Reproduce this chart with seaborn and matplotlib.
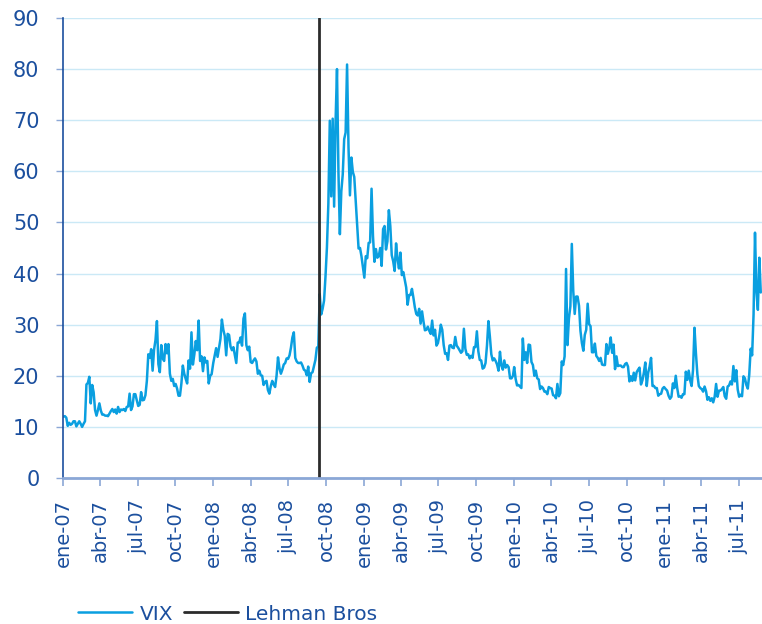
import numpy as np
import pandas as pd
import matplotlib
matplotlib.use("Agg")
import matplotlib.pyplot as plt
import seaborn as sns
from matplotlib.lines import Line2D

# --- data: VIX read twice a week (Tue/Fri) from the picture ---
vix_2007 = [12.0, 12.1, 11.8, 10.2, 10.8, 10.4, 10.6, 11.1, 11.1, 10.1, 10.6, 11.1, 10.6, 10.0, 10.6, 11.1,
            18.3, 18.6, 19.8, 14.6, 18.2, 16.8, 13.3, 12.2, 13.3, 14.6, 13.2, 12.4, 12.4, 12.2, 12.2, 12.1,
            12.6, 13.1, 13.5, 12.9, 13.4, 12.6, 13.9, 12.9, 13.4, 13.3, 13.5, 13.1, 13.9, 14.0, 16.5, 13.3,
            14.0, 16.4, 16.4, 15.2, 14.1, 14.3, 16.8, 15.2, 15.3, 16.2, 19.0, 24.2, 23.5, 25.2, 21.0, 25.1,
            27.0, 30.7, 22.3, 20.7, 26.0, 23.4, 22.9, 26.2, 24.4, 26.2, 20.4, 19.0, 19.4, 18.0, 18.4, 17.5,
            16.1, 16.1, 18.5, 22.0, 20.4, 19.4, 18.5, 23.0, 21.4, 28.5, 22.2, 24.2, 26.8, 25.0, 30.8, 22.9,
            23.8, 20.9, 23.6, 22.6, 22.9, 18.5, 20.0, 20.3]
vix_2008 = [22.5, 23.9, 25.4, 23.7, 25.4, 27.2, 31.0, 29.0, 27.8, 24.0, 28.2, 28.0, 25.7, 25.0, 25.6, 24.1,
            22.5, 26.5, 26.5, 27.5, 25.9, 31.2, 32.2, 26.0, 25.0, 25.7, 22.7, 22.5, 23.0, 23.4, 22.8, 20.4,
            21.0, 20.1, 20.0, 18.2, 18.8, 19.0, 17.2, 16.5, 18.0, 19.0, 18.3, 17.8, 20.0, 23.6, 21.5, 20.4,
            21.2, 22.2, 22.5, 23.4, 23.3, 24.0, 25.5, 27.5, 28.5, 23.5, 22.8, 22.5, 22.5, 22.6, 22.0, 21.2,
            21.0, 20.1, 21.8, 18.8, 20.5, 20.7, 21.9, 23.1, 25.5, 25.7, 36.0, 32.0, 33.1, 34.7, 39.4, 45.1,
            53.7, 69.9, 55.1, 70.3, 53.1, 69.6, 80.0, 59.9, 47.7, 56.1, 59.4, 66.3, 67.6, 80.9, 64.7, 55.3,
            62.7, 59.9, 58.9, 54.3, 49.8, 44.9, 45.0, 43.4]
vix_2009 = [39.2, 43.4, 43.0, 46.0, 46.1, 56.6, 47.3, 42.3, 44.8, 43.1, 43.4, 45.0, 41.5, 48.7, 49.3, 44.7,
            46.3, 52.4, 49.3, 43.6, 42.4, 40.5, 45.9, 42.9, 41.0, 44.1, 39.7, 40.3, 38.8, 37.3, 33.9, 35.8,
            35.8, 37.0, 35.3, 33.4, 32.1, 31.8, 33.1, 30.2, 32.6, 30.6, 28.9, 29.0, 29.6, 28.8, 28.2, 30.8,
            27.9, 29.0, 25.9, 26.4, 27.9, 30.0, 29.0, 26.0, 24.3, 24.4, 23.1, 25.9, 26.0, 25.5, 25.4, 27.6,
            25.9, 25.5, 25.0, 24.5, 24.8, 29.2, 25.3, 24.1, 24.2, 23.4, 23.9, 23.5, 25.6, 25.6, 28.7, 24.8,
            23.1, 23.0, 21.4, 21.6, 22.5, 25.9, 30.7, 27.7, 24.2, 23.0, 23.4, 22.9, 22.2, 21.0, 24.7, 22.0,
            21.2, 23.0, 21.6, 22.1, 21.7, 19.5, 19.5, 20.0]
vix_2010 = [21.7, 19.4, 18.1, 18.2, 17.9, 17.6, 27.3, 23.1, 24.6, 22.5, 26.1, 26.0, 22.7, 22.1, 20.0, 21.0,
            19.5, 19.3, 17.4, 17.9, 17.6, 16.9, 16.9, 16.4, 17.8, 17.6, 17.5, 16.2, 16.1, 15.6, 18.4, 16.0,
            16.6, 22.8, 22.1, 23.8, 40.9, 26.0, 31.2, 33.6, 45.8, 36.6, 32.1, 35.5, 35.5, 33.7, 28.8, 26.4,
            24.9, 28.0, 29.0, 34.1, 30.1, 29.7, 24.6, 24.6, 26.3, 23.9, 23.5, 22.9, 23.5, 22.2, 22.1, 22.1,
            26.2, 24.3, 25.5, 27.5, 24.5, 26.1, 21.3, 23.8, 21.9, 22.0, 22.0, 21.7, 21.7, 22.3, 22.5, 21.8,
            18.9, 19.9, 19.0, 20.6, 19.1, 20.7, 21.2, 21.6, 18.3, 19.1, 20.6, 22.6, 18.0, 20.6, 21.8, 23.5,
            18.0, 18.0, 17.6, 17.6, 16.1, 16.4, 16.5, 17.5, 17.8]
vix_2011 = [17.4, 17.1, 16.1, 15.5, 15.9, 18.5, 17.6, 20.0, 17.6, 15.9, 16.0, 15.7, 16.4, 16.4, 20.8, 19.2,
            21.0, 19.1, 18.0, 21.2, 29.4, 24.4, 20.3, 18.0, 17.6, 17.4, 16.9, 17.9, 17.0, 15.3, 15.8, 15.1,
            15.6, 14.8, 15.9, 18.4, 15.9, 17.1, 17.1, 17.4, 17.8, 16.0, 15.5, 17.9, 18.1, 18.9, 18.3, 21.9,
            18.9, 21.1, 17.3, 15.9, 16.3, 16.0, 19.9, 19.5, 18.2, 17.5, 20.2, 25.3, 24.0, 32.0, 48.0, 36.4,
            32.9, 43.1, 36.3]
# first and last sample date of each year's list
year_spans = [("2007-01-02", "2007-12-28"), ("2008-01-01", "2008-12-26"),
              ("2009-01-02", "2009-12-29"), ("2010-01-01", "2010-12-31"),
              ("2011-01-04", "2011-08-23")]
lehman_date = "2008-09-15"
month_abbr = ["ene", "abr", "jul", "oct"]
series_names = ["VIX", "Lehman Bros"]

# --- build a table ---
frames = []
for vals, (s, e) in zip([vix_2007, vix_2008, vix_2009, vix_2010, vix_2011], year_spans):
    t0, t1 = pd.Timestamp(s), pd.Timestamp(e)
    dates = pd.to_datetime(np.linspace(t0.value, t1.value, len(vals)))
    frames.append(pd.DataFrame({"fecha": dates, "VIX": vals}))
df = pd.concat(frames, ignore_index=True)

# --- style ---
sns.set_theme(style="white")
plt.rcParams["font.family"] = ["DejaVu Sans"]
dark_blue = "#1b4f9e"
vix_col = "#0a9fe0"
grid_col = "#cbe9f6"
tick_col = "#8ba7d6"

fig = plt.figure(figsize=(7.62, 6.24), dpi=100)
ax = fig.add_axes([63 / 762, 146 / 624, 699 / 762, 460 / 624])

sns.lineplot(data=df, x="fecha", y="VIX", ax=ax, color=vix_col, linewidth=1.8)
ax.axvline(pd.Timestamp(lehman_date), color="#2b2b2b", linewidth=2.0, zorder=3)

ax.set_ylim(0, 90)
ax.set_yticks(np.arange(0, 91, 10))
ax.set_xlim(pd.Timestamp("2007-01-01"), pd.Timestamp("2011-08-26"))
ticks = pd.date_range("2007-01-01", "2011-07-01", freq="QS")
ax.set_xticks(ticks)
ax.set_xticklabels([f"{month_abbr[(t.month - 1) // 3]}-{t.strftime('%y')}" for t in ticks],
                   rotation=90)
ax.set_xlabel("")
ax.set_ylabel("")

ax.yaxis.grid(True, color=grid_col, linewidth=1.0)
ax.xaxis.grid(False)
ax.set_axisbelow(True)
for sp in ["top", "right"]:
    ax.spines[sp].set_visible(False)
ax.spines["left"].set_color(dark_blue)
ax.spines["left"].set_linewidth(1.2)
ax.spines["bottom"].set_color(tick_col)
ax.spines["bottom"].set_linewidth(2.0)
ax.spines["bottom"].set_zorder(4)
ax.tick_params(axis="x", colors=tick_col, labelcolor=dark_blue, labelsize=14,
               direction="out", length=6, width=1.2, bottom=True, pad=9)
ax.tick_params(axis="y", colors=tick_col, labelcolor=dark_blue, labelsize=15,
               direction="out", length=5, width=1.0, left=True, pad=12)

handles = [Line2D([0], [0], color=vix_col, linewidth=1.8),
           Line2D([0], [0], color="#2b2b2b", linewidth=2.0)]
leg = fig.legend(handles, series_names, loc="center left",
                 bbox_to_anchor=(78 / 762, 1 - 614 / 624),
                 ncol=2, frameon=False, fontsize=14.5, handlelength=2.7, handletextpad=0.35,
                 columnspacing=0.55, borderaxespad=0, borderpad=0)
for t in leg.get_texts():
    t.set_color(dark_blue)

fig.savefig("out.png", dpi=100)
